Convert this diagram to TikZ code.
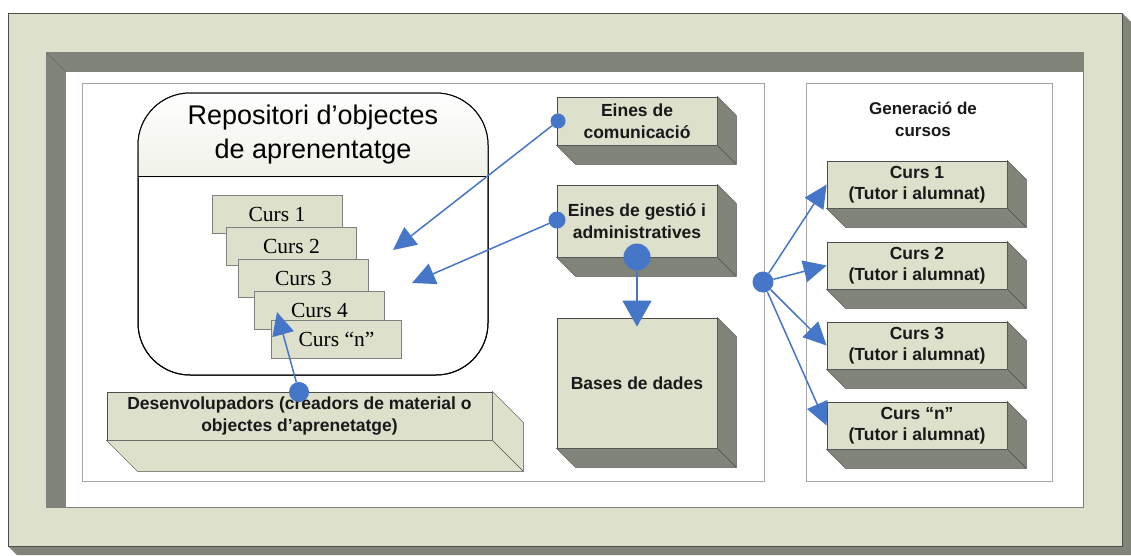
\documentclass[tikz,border=0pt]{standalone}
\usepackage{fontspec}
\setmainfont{Liberation Serif}
\setsansfont{Liberation Sans}
\usetikzlibrary{positioning,calc,arrows.meta}
\definecolor{beige}{RGB}{221,224,203}
\definecolor{sidegray}{RGB}{128,132,121}
\definecolor{linkblue}{RGB}{70,118,200}
\definecolor{panelgray}{RGB}{165,165,165}

\begin{document}
\begin{tikzpicture}[x=1pt,y=-1pt,
  facebox/.style={rectangle,draw=black!70,fill=beige,line width=0.8pt,align=center,inner sep=0pt,text=black!90,font=\sffamily\bfseries\fontsize{17.5}{21.5}\selectfont},
  cursbox/.style={rectangle,draw=black!50,fill=beige,minimum width=130pt,minimum height=38pt,inner sep=0pt,font=\fontsize{21.5}{24}\selectfont},
  dot/.style={circle,fill=linkblue,inner sep=0pt,minimum size=#1},
  link/.style={draw=linkblue,line width=1.5pt,-{Triangle[length=23pt,width=22pt]}}]
\useasboundingbox (0,0) rectangle (1131,555);

% outer frame
\fill[sidegray] (1122,13) -- (1131,22) -- (1131,555) -- (17,555) -- (8,546) -- (1122,546) -- cycle;
\draw[black!70,fill=beige] (8,13) rectangle (1122,546);
\fill[sidegray] (46,52) rectangle (1083,507);
\fill[white] (66,72) rectangle (1083,507);
\draw[black!60] (46,52) -- (66,72);
\draw[black!50] (46,52) rectangle (1083,507);

% panels
\draw[panelgray,line width=1pt] (82,83) rectangle (764,481);
\draw[panelgray,line width=1pt] (806,83) rectangle (1052,481);

% repository
\node[draw,fill=white,rounded corners=52pt,line width=1pt,minimum width=350pt,minimum height=282pt] (repo) at (313,234) {};
\begin{scope}
\clip[rounded corners=52pt] (138,93) rectangle (488,375);
\shade[top color=white,bottom color=beige!45] (138,93) rectangle (488,177);
\end{scope}
\draw[line width=1pt,rounded corners=52pt] (138,93) rectangle (488,375);
\draw[line width=1pt] ($(repo.north west)+(0,84)$) -- ($(repo.north east)+(0,84)$);
\node[font=\sffamily\fontsize{27}{34}\selectfont,align=center] (repotitle) at (313,135) {Repositori d’objectes\\de aprenentatge};

\node[cursbox] (c1) at (277,214) {Curs 1};
\node[cursbox] (c2) at (291.5,246) {Curs 2};
\node[cursbox] (c3) at (303.5,278) {Curs 3};
\node[cursbox] (c4) at (319.5,310) {Curs 4};
\node[cursbox] (cn) at (336.5,339) {Curs “n”};

% developers
\node[facebox,minimum width=385pt,minimum height=48pt] (desenv) at (299.5,416) {Desenvolupadors (creadors de material o\\objectes d’aprenetatge)};
\filldraw[fill=beige,draw=black!70] (desenv.north east) -- ++(31,31) -- ($(desenv.south east)+(31,31)$) -- ($(desenv.south west)+(31,31)$) -- (desenv.south west) -- (desenv.south east) -- cycle;
\draw[black!70] (desenv.south east) -- ++(31,31);

% tools
\node[facebox,minimum width=160pt,minimum height=48pt] (comm) at (637,121) {Eines de\\comunicació};
\node[facebox,minimum width=160pt,minimum height=72pt] (gest) at (637,221) {Eines de gestió i\\administratives};
\node[facebox,minimum width=160pt,minimum height=130pt] (bases) at (637,383) {Bases de dades};

% courses
\node[font=\sffamily\bfseries\fontsize{17}{22}\selectfont,align=center,text=black!90] (gentitle) at (923,119) {Generació de\\cursos};
\node[facebox,minimum width=180pt,minimum height=47pt] (cur1) at (917,184.5) {Curs 1\\(Tutor i alumnat)};
\node[facebox,minimum width=180pt,minimum height=47pt] (cur2) at (917,265.5) {Curs 2\\(Tutor i alumnat)};
\node[facebox,minimum width=180pt,minimum height=47pt] (cur3) at (917,345.5) {Curs 3\\(Tutor i alumnat)};
\node[facebox,minimum width=180pt,minimum height=47pt] (curn) at (917,425.5) {Curs “n”\\(Tutor i alumnat)};

\foreach \n in {comm,gest,bases,cur1,cur2,cur3,curn}{
  \filldraw[fill=sidegray,draw=black!70] (\n.north east) -- ++(19,19) -- ($(\n.south east)+(19,19)$) -- ($(\n.south west)+(19,19)$) -- (\n.south west) -- (\n.south east) -- cycle;
  \draw[black!70] (\n.south east) -- ++(19,19);
}

% connectors
\node[dot=15pt] (d1) at (558,121) {};
\node[dot=17pt] (d2) at (557,220) {};
\node[dot=27pt] (d3) at (637,257) {};
\node[dot=20pt] (d4) at (299,392) {};
\node[dot=21pt] (hub) at (763,282) {};
\coordinate (t1) at (393,250);
\coordinate (t2) at (412,283);
\coordinate (t4) at (277,312);
\draw[link] (d1) -- (t1);
\draw[link] (d2) -- (t2);
\draw[link] (d4) -- (t4);
\draw[link,-{Triangle[length=26pt,width=29pt]},shorten >=-9pt] (d3) -- (bases);
\foreach \c in {cur1,cur2,cur3,curn}
  \draw[link] (hub) -- (\c.west);
\end{tikzpicture}
\end{document}
